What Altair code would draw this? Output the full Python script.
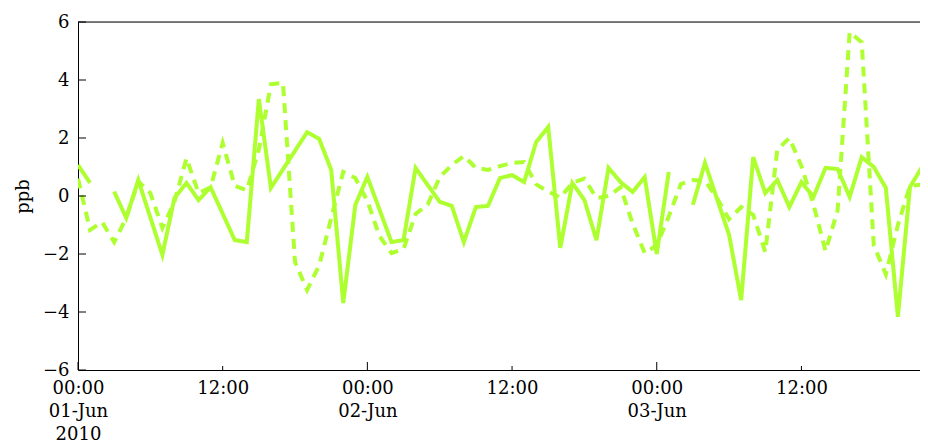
import json
import altair as alt
import pandas as pd

# hourly time stamps (UTC)
times = pd.date_range("2010-06-01 00:00", periods=72, freq="h").strftime("%Y-%m-%dT%H:%M:%SZ").tolist()

solid_ppb = [
    1.07, 0.45, None, 0.15, -0.76, 0.55, -0.74, -2.03, -0.07, 0.45,
    -0.14, 0.30, -0.61, -1.52, -1.59, 3.34, 0.28, 0.92, 1.56, 2.20,
    1.97, 0.90, -3.69, -0.31, 0.66, -0.46, -1.59, -1.52, 0.97, 0.38,
    -0.20, -0.34, -1.59, -0.38, -0.34, 0.62, 0.72, 0.48, 1.86, 2.38,
    -1.79, 0.45, -0.14, -1.52, 0.97, 0.48, 0.14, 0.65, -2.00, 0.83,
    None, -0.30, 1.14, -0.10, -1.34, -3.59, 1.34, 0.10, 0.55, -0.38,
    0.48, -0.03, 0.97, 0.93, -0.03, 1.34, 1.00, 0.28, -4.17, 0.31,
    1.00, 1.69,
]

dashed_ppb = [
    0.60, -1.17, -0.90, -1.59, -0.75, 0.50, 0.10, -1.10, -0.20, 1.30,
    0.10, 0.30, 1.83, 0.35, 0.20, 1.60, 3.85, 3.90, -2.28, -3.24,
    -2.40, -0.76, 0.83, 0.62, -0.17, -1.38, -1.97, -1.83, -0.62, -0.30,
    0.65, 1.07, 1.38, 0.97, 0.90, 1.03, 1.14, 1.17, 0.40, 0.15,
    -0.05, 0.45, 0.60, -0.07, 0.00, 0.30, -0.95, -1.97, -1.70, -0.70,
    0.41, 0.55, 0.52, -0.07, -0.80, -0.38, -0.65, -1.93, 1.60, 2.00,
    1.03, -0.30, -1.90, -0.50, 5.65, 5.30, -1.70, -2.70, -1.00, 0.35,
    0.40, 0.20,
]

y_ticks = [-6, -4, -2, 0, 2, 4, 6]
major_ticks = ["2010-06-01T00:00:00Z", "2010-06-02T00:00:00Z", "2010-06-03T00:00:00Z"]
minor_ticks = ["2010-06-01T12:00:00Z", "2010-06-02T12:00:00Z", "2010-06-03T12:00:00Z"]
tick_times = ["2010-06-01T00:00:00Z", "2010-06-01T12:00:00Z", "2010-06-02T00:00:00Z",
              "2010-06-02T12:00:00Z", "2010-06-03T00:00:00Z", "2010-06-03T12:00:00Z"]
tick_labels = [["00:00", "01-Jun", "2010"], ["12:00"], ["00:00", "02-Jun"], ["12:00"],
               ["00:00", "03-Jun"], ["12:00"]]
x_start = "2010-06-01T00:00:00Z"
x_end = "2010-06-03T21:50:00Z"

COLOR = "#ADFF2F"
FONT = "DejaVu Serif"
W, H = 842, 348


def ms(t):
    return int(pd.Timestamp(t).value // 10**6)


tick_ms = [ms(t) for t in tick_times]
label_expr = " : ".join(
    f"+datum.value == {m} ? {json.dumps(l)}" for m, l in zip(tick_ms, tick_labels)
) + " : ''"

df = pd.DataFrame({"time": times, "solid": solid_ppb, "dashed": dashed_ppb})
long = df.melt(id_vars="time", var_name="series", value_name="ppb")

x_scale = alt.Scale(type="utc", domain=[ms(x_start), ms(x_end)])
y_scale = alt.Scale(domain=[-6, 6])

x_axis = alt.Axis(
    values=tick_ms, labelExpr=label_expr, title=None, grid=False, ticks=False,
    domainColor="black", domainWidth=1, labelFont=FONT, labelFontSize=18,
    labelColor="black", labelPadding=9, labelFlush=False, labelOverlap=False,
    labelLineHeight=23,
)
y_axis = alt.Axis(
    values=y_ticks, title="ppb", grid=False, ticks=False, domainColor="black",
    domainWidth=1, labelFont=FONT, labelFontSize=18, labelColor="black",
    labelPadding=9, labelFlush=False, labelOverlap=False, titleFont=FONT,
    titleFontSize=18, titleFontWeight="normal", titleColor="black", titlePadding=10,
)

lines = alt.Chart(long).mark_line(
    color=COLOR, strokeWidth=4, clip=True, invalid="break-paths-filter-domains"
).encode(
    x=alt.X("time:T", scale=x_scale, axis=x_axis),
    y=alt.Y("ppb:Q", scale=y_scale, axis=y_axis),
    strokeDash=alt.StrokeDash(
        "series:N", scale=alt.Scale(domain=["dashed", "solid"], range=[[10, 7], [1, 0]]),
        legend=None,
    ),
)

ytick_rules = alt.Chart(pd.DataFrame({"ppb": y_ticks})).mark_rule(
    color="black", strokeWidth=1
).encode(y=alt.Y("ppb:Q", scale=y_scale), x=alt.value(0), x2=alt.value(8))

major_rules = alt.Chart(pd.DataFrame({"time": major_ticks})).mark_rule(
    color="black", strokeWidth=1
).encode(x=alt.X("time:T", scale=x_scale), y=alt.value(H), y2=alt.value(H - 8))

minor_rules = alt.Chart(pd.DataFrame({"time": minor_ticks})).mark_rule(
    color="black", strokeWidth=1
).encode(x=alt.X("time:T", scale=x_scale), y=alt.value(H), y2=alt.value(H - 4))

top_spine = alt.Chart(pd.DataFrame({"time": [x_start]})).mark_rule(
    color="black", strokeWidth=1
).encode(x=alt.value(0), x2=alt.value(W), y=alt.value(0))

chart = alt.layer(lines, ytick_rules, major_rules, minor_rules, top_spine).properties(
    width=W, height=H,
    autosize=alt.AutoSizeParams(type="none"),
    padding={"left": 70, "top": 14, "right": 0, "bottom": 74},
).configure_view(stroke=None).configure(font=FONT)

chart.save("out.html", embed_options={"renderer": "svg", "actions": False})
